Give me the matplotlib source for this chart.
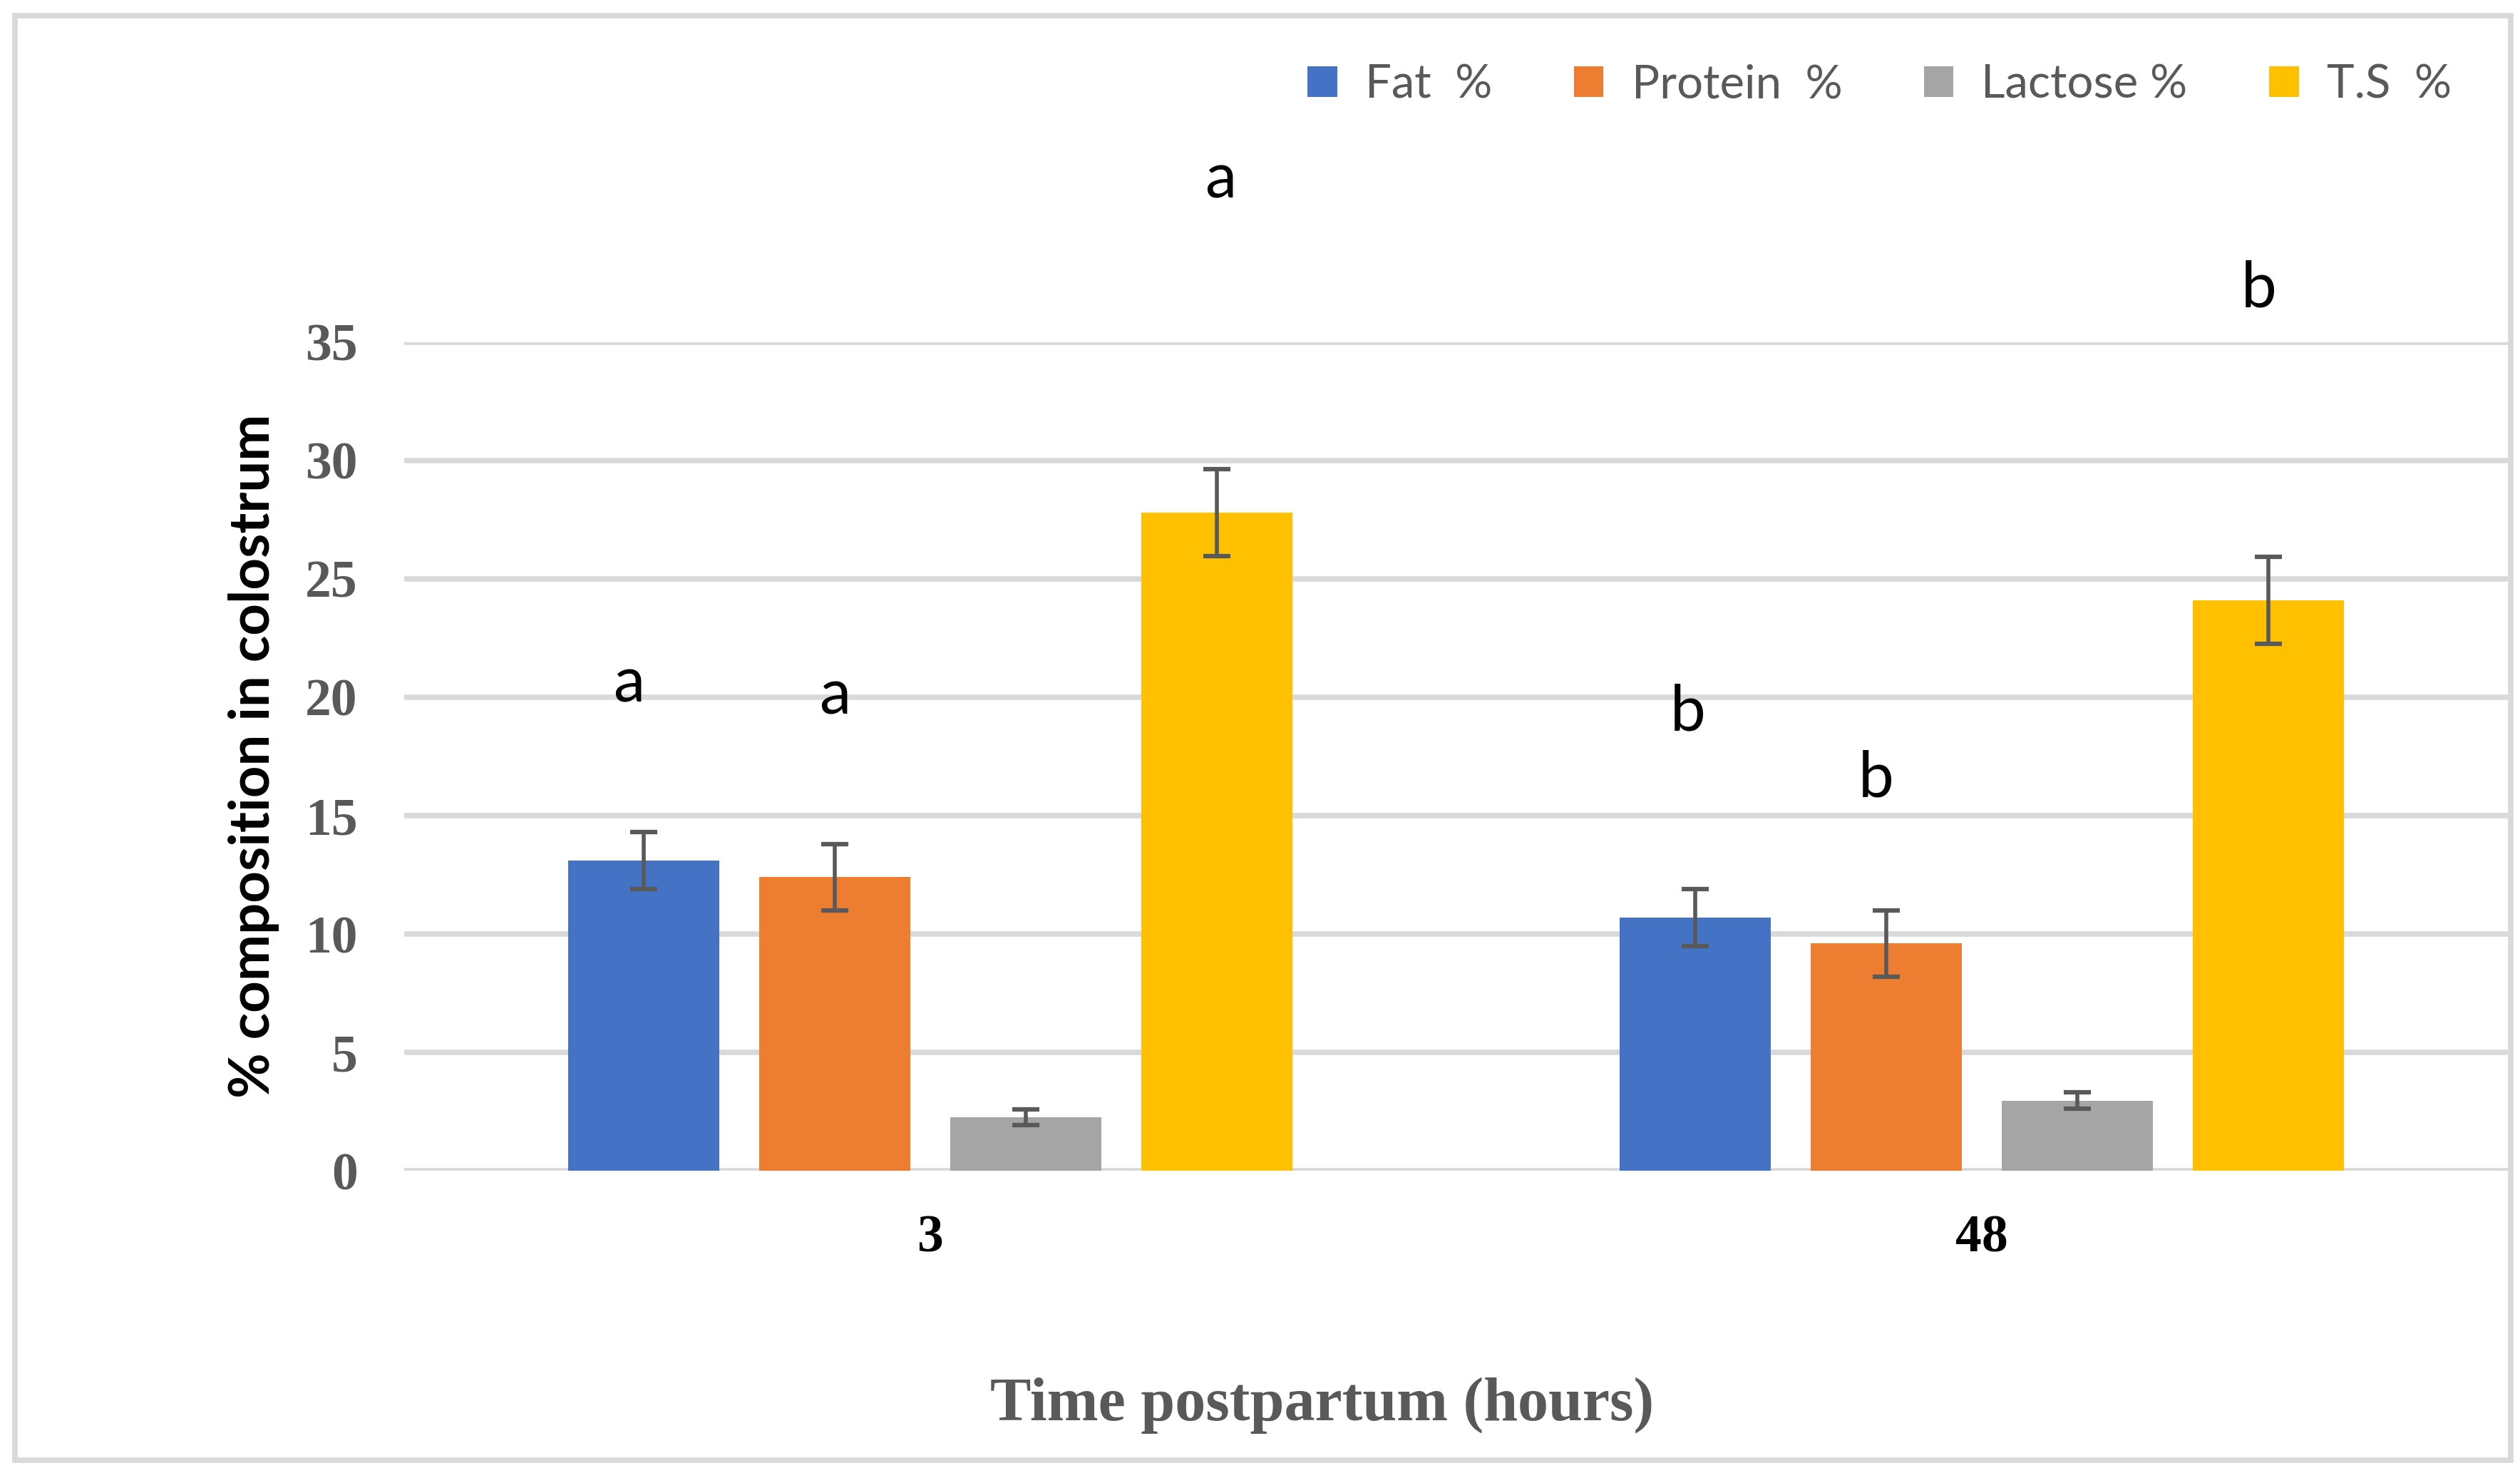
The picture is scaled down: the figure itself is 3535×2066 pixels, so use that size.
import matplotlib.pyplot as plt
import numpy as np
from matplotlib.patches import Patch, Rectangle

# Data
times = ['3', '48']
series = ['Fat  %', 'Protein  %', 'Lactose %', 'T.S  %']
fat = [13.1, 10.7]
protein = [12.4, 9.6]
lactose = [2.26, 2.96]
total_solids = [27.8, 24.1]
fat_err = [1.2, 1.2]
protein_err = [1.4, 1.4]
lactose_err = [0.34, 0.35]
total_solids_err = [1.83, 1.83]

# significance letters (per series, per time) and the height of their baseline
letters = [['a', 'b'], ['a', 'b'], [None, None], ['a', 'b']]
letter_y = [[19.8, 18.6], [19.3, 15.8], [None, None], [41.1, 36.5]]
letter_dx = [[-0.014, -0.007], [0.0, -0.010], [None, None], [0.004, -0.009]]

colors = ['#4472C4', '#ED7D31', '#A5A5A5', '#FFC000']
grey = '#595959'

values = [fat, protein, lactose, total_solids]
errors = [fat_err, protein_err, lactose_err, total_solids_err]

fig = plt.figure(figsize=(35.35, 20.66), dpi=100)
ax = fig.add_axes([0.1604, 0.2052, 0.9952 - 0.1604, 0.7677 - 0.2052])

x = np.arange(len(times))
width = 0.1437
pitch = 0.1816

for i, (vals, errs) in enumerate(zip(values, errors)):
    pos = x + (i - 1.5) * pitch
    ax.bar(pos, vals, width, color=colors[i], zorder=2)
    ax.errorbar(pos, vals, yerr=errs, fmt='none', ecolor=grey, elinewidth=4,
                capsize=14, capthick=4.5, zorder=3)
    for j in range(len(times)):
        if letters[i][j]:
            ax.text(pos[j] + letter_dx[i][j], letter_y[i][j], letters[i][j],
                    ha='center', va='baseline', fontsize=64, family='Lato',
                    color='black', clip_on=False)

ax.set_xlim(-0.5, 1.5)
ax.set_ylim(0, 35)
ax.set_yticks(range(0, 36, 5))
ax.set_xticks(x)
ax.set_xticklabels(times)
ax.grid(axis='y', color='#D9D9D9', linewidth=5.5, zorder=0)
ax.set_axisbelow(True)
for s in ax.spines.values():
    s.set_visible(False)
ax.tick_params(axis='both', length=0)
ax.tick_params(axis='y', pad=47, labelsize=53, labelcolor=grey)
ax.tick_params(axis='x', pad=44, labelsize=53, labelcolor='black')
for lab in ax.get_yticklabels() + ax.get_xticklabels():
    lab.set_family('Liberation Serif')
    lab.set_weight('bold')

fig.text(356 / 3535, 0.487, '% composition in colostrum', rotation=90,
         ha='center', va='center', fontsize=56, family='Lato', weight='bold',
         color='black')
fig.text(1855 / 3535, 1 - 1992 / 2066, 'Time postpartum (hours)', ha='center',
         va='baseline', fontsize=62, family='Liberation Serif', weight='bold',
         color=grey)

handles = [Patch(facecolor=c, edgecolor='none') for c in colors]
fig.legend(handles, series, loc='center right', bbox_to_anchor=(3439 / 3535, 1 - 119 / 2066),
           ncol=4, frameon=False, prop={'family': 'Lato', 'size': 47},
           labelcolor=grey, handlelength=0.64, handleheight=0.64, handletextpad=0.6,
           columnspacing=1.75, borderpad=0, borderaxespad=0)

# light grey chart border
fig.patches.append(Rectangle((21 / 3535, 1 - 2047.5 / 2066), (3522 - 21) / 3535,
                             (2047.5 - 21.5) / 2066, transform=fig.transFigure,
                             fill=False, edgecolor='#D9D9D9', linewidth=5.5))

fig.savefig('out.png', dpi=100)
